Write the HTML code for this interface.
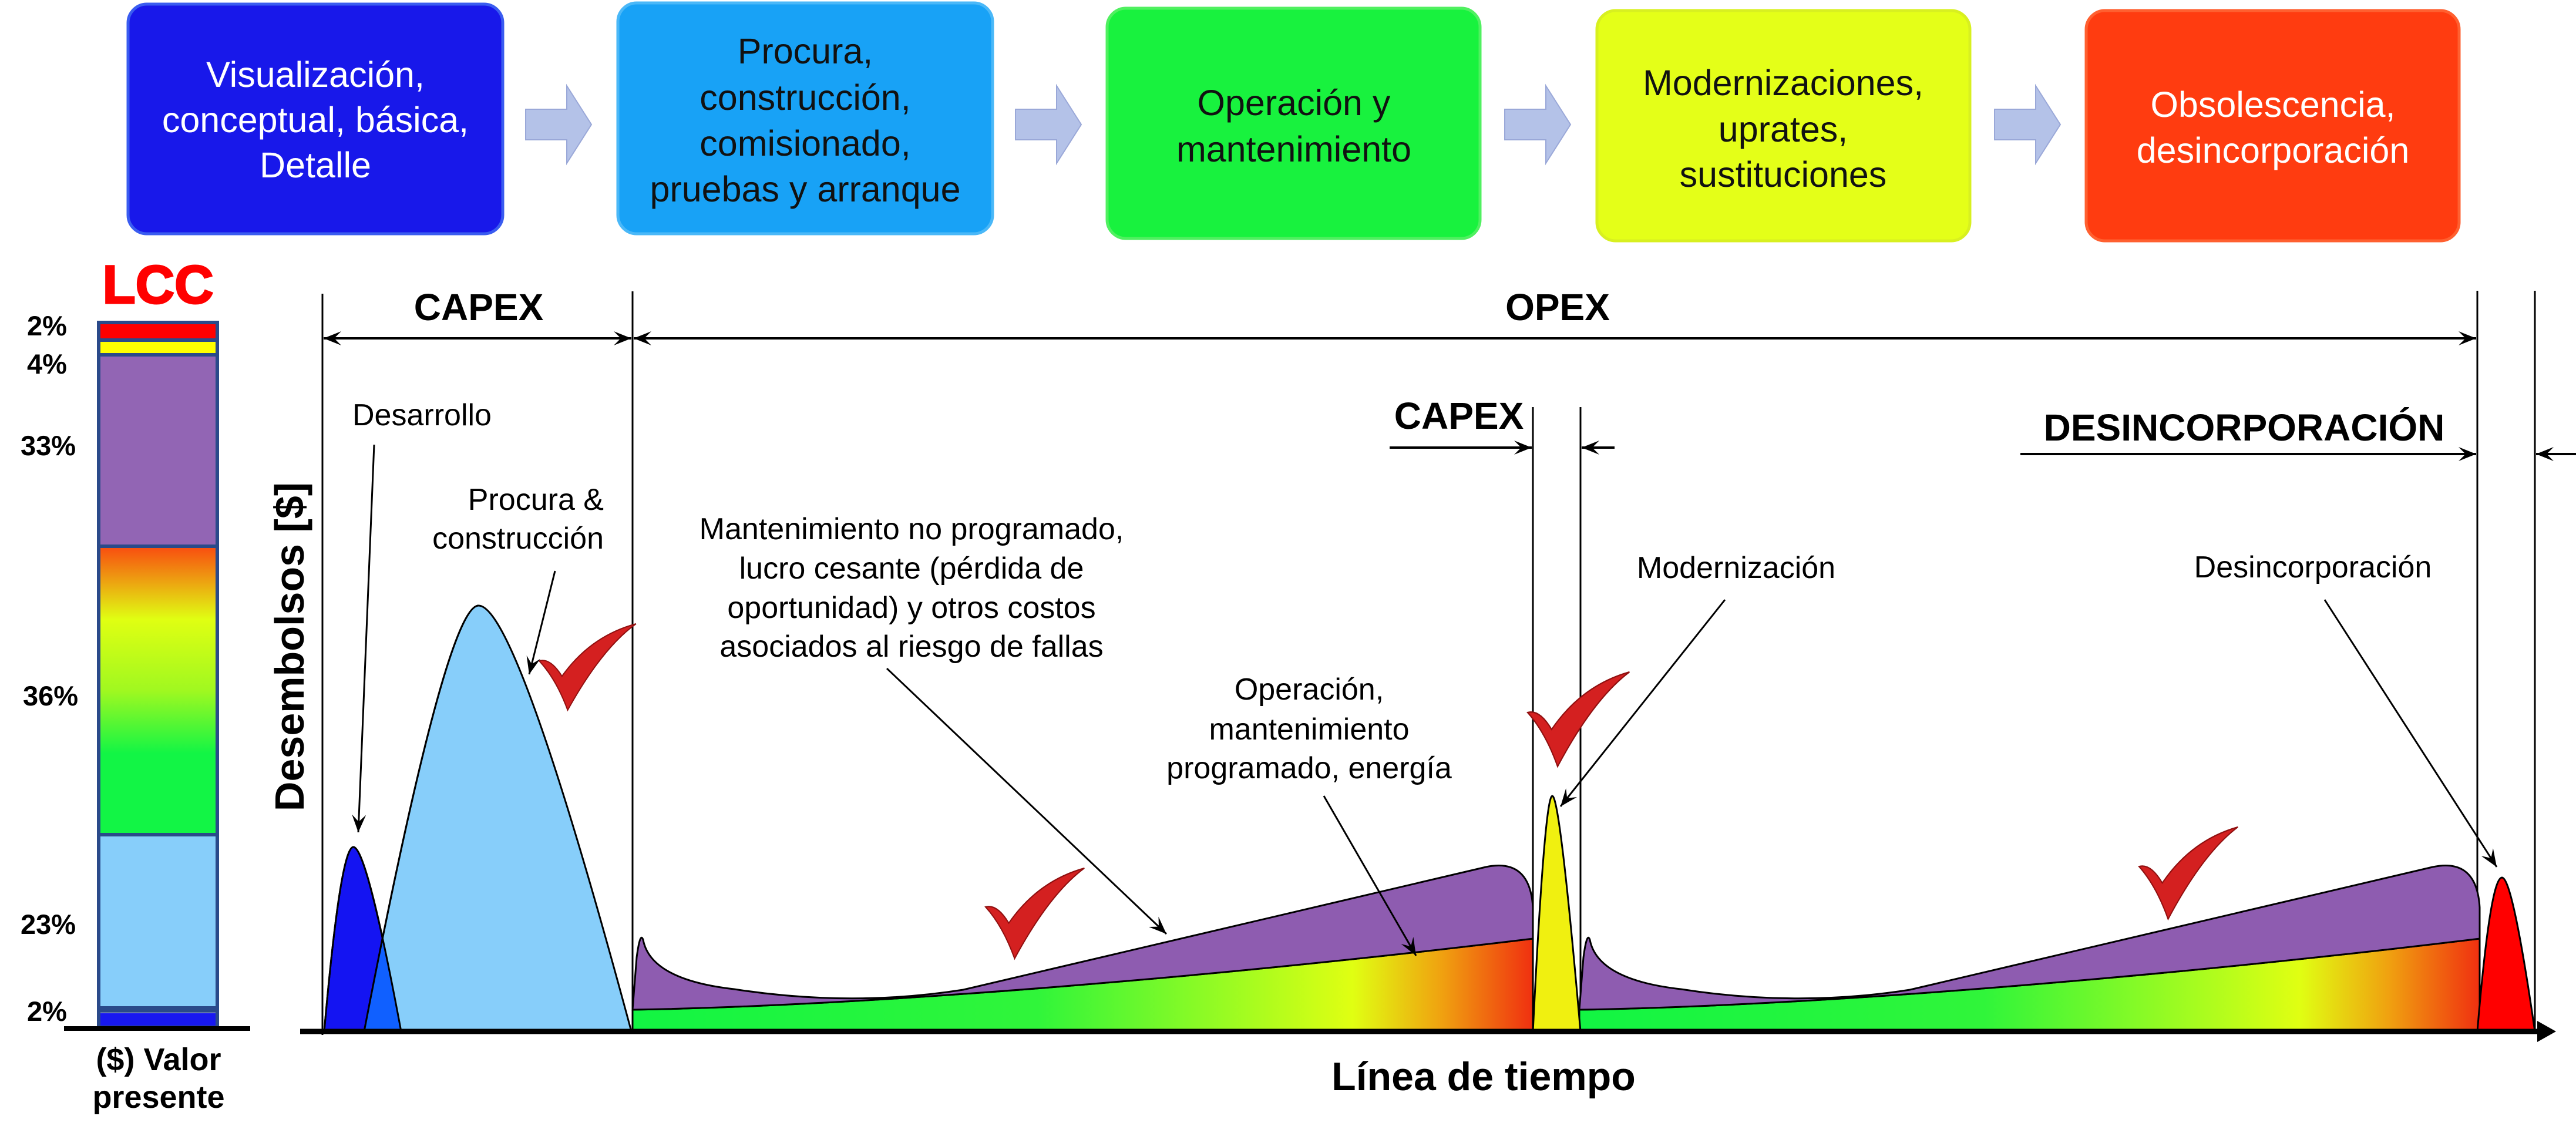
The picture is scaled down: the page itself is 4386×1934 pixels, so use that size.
<!DOCTYPE html>
<html><head><meta charset="utf-8"><style>
html,body{margin:0;padding:0;background:#fff}
svg{display:block}
text{font-family:"Liberation Sans",Arial,sans-serif}
</style></head><body>
<svg width="4386" height="1934" viewBox="0 0 4386 1934" xmlns="http://www.w3.org/2000/svg">
<defs>
<linearGradient id="opex" x1="0" x2="1" y1="0" y2="0">
<stop offset="0" stop-color="#12f543"/><stop offset="0.45" stop-color="#30f53a"/>
<stop offset="0.8" stop-color="#e0ff12"/><stop offset="0.9" stop-color="#f0a010"/><stop offset="1" stop-color="#f03010"/>
</linearGradient>
<linearGradient id="barg" x1="0" x2="0" y1="0" y2="1">
<stop offset="0" stop-color="#f85010"/><stop offset="0.25" stop-color="#e0ff12"/>
<stop offset="0.5" stop-color="#a0f820"/><stop offset="0.72" stop-color="#12f545"/><stop offset="1" stop-color="#12f545"/>
</linearGradient>
<clipPath id="dbclip"><path d="M552,1756 Q580,1440 602,1442 Q625,1445 683,1756 Z"/></clipPath>
<marker id="ah2" viewBox="0 0 10 10" refX="10" refY="5" markerWidth="50" markerHeight="30" markerUnits="userSpaceOnUse" orient="auto">
<path d="M0,1 L10,5 L0,9 L4,5 Z" fill="#000"/></marker>
<g id="chk"><path d="M0,60 Q20,55 40,85 Q90,20 170,0 Q110,40 50,140 Q30,90 0,60 Z" fill="#d42020" stroke="#901010" stroke-width="2"/></g>
<g id="arr"><path d="M0,40 L70,40 L70,0 L112,66 L70,132 L70,92 L0,92 Z" fill="#b4c2e8" stroke="#9aa8d8" stroke-width="2"/></g>
</defs>

<!-- top boxes -->
<rect x="218" y="7" width="638" height="391" rx="32" fill="#1818ea" stroke="#3a5cf0" stroke-width="5"/>
<rect x="1052" y="5" width="638" height="393" rx="32" fill="#18a2f6" stroke="#4ab8f8" stroke-width="5"/>
<rect x="1885" y="14" width="635" height="392" rx="32" fill="#18f23e" stroke="#50f060" stroke-width="5"/>
<rect x="2719" y="18" width="635" height="392" rx="32" fill="#e4ff18" stroke="#d8f020" stroke-width="5"/>
<rect x="3552" y="18" width="635" height="392" rx="32" fill="#ff3c10" stroke="#ff6030" stroke-width="5"/>
<use href="#arr" x="895" y="146"/><use href="#arr" x="1729" y="146"/><use href="#arr" x="2562" y="146"/><use href="#arr" x="3396" y="146"/>
<g font-size="61" text-anchor="middle">
<text fill="#fff"><tspan x="537" y="148">Visualización,</tspan><tspan x="537" y="225">conceptual, básica,</tspan><tspan x="537" y="302">Detalle</tspan></text>
<text fill="#111"><tspan x="1371" y="108">Procura,</tspan><tspan x="1371" y="187">construcción,</tspan><tspan x="1371" y="265">comisionado,</tspan><tspan x="1371" y="343">pruebas y arranque</tspan></text>
<text fill="#111"><tspan x="2203" y="196">Operación y</tspan><tspan x="2203" y="275">mantenimiento</tspan></text>
<text fill="#111"><tspan x="3036" y="162">Modernizaciones,</tspan><tspan x="3036" y="241">uprates,</tspan><tspan x="3036" y="318">sustituciones</tspan></text>
<text fill="#fff"><tspan x="3870" y="199">Obsolescencia,</tspan><tspan x="3870" y="277">desincorporación</tspan></text>
</g>

<!-- LCC bar -->
<text x="269" y="516" font-size="92" font-weight="bold" fill="#f00" text-anchor="middle" stroke="#f00" stroke-width="3">LCC</text>
<rect x="168" y="549" width="202" height="28" fill="#f00"/>
<rect x="168" y="582" width="202" height="20" fill="#ff0"/>
<rect x="168" y="607" width="202" height="321" fill="#9265b4"/>
<rect x="168" y="933" width="202" height="486" fill="url(#barg)"/>
<rect x="168" y="1423" width="202" height="292" fill="#87cefa"/>
<rect x="168" y="1725" width="202" height="24" fill="#1818f0"/>
<g stroke="#2a4a8a" stroke-width="6"><line x1="168" y1="579" x2="370" y2="579"/><line x1="168" y1="604" x2="370" y2="604"/><line x1="168" y1="930" x2="370" y2="930"/><line x1="168" y1="1421" x2="370" y2="1421"/></g>
<rect x="168" y="1713" width="202" height="11" fill="#2a4a8a"/>
<rect x="168" y="549" width="202" height="1200" fill="none" stroke="#2a4a8a" stroke-width="6"/>
<line x1="109" y1="1751" x2="426" y2="1751" stroke="#000" stroke-width="8"/>
<g font-size="47" font-weight="bold" text-anchor="middle" fill="#000">
<text x="80" y="571">2%</text><text x="80" y="636">4%</text><text x="82" y="775">33%</text><text x="86" y="1201">36%</text><text x="82" y="1590">23%</text><text x="80" y="1738">2%</text>
</g>
<g font-size="54" font-weight="bold" text-anchor="middle"><text x="270" y="1822">($) Valor</text><text x="270" y="1886">presente</text></g>

<!-- chart verticals -->
<g stroke="#000" stroke-width="3">
<line x1="549" y1="500" x2="549" y2="1762"/>
<line x1="1077" y1="496" x2="1077" y2="1756"/>
<line x1="4218" y1="495" x2="4218" y2="1756"/>
<line x1="4316" y1="495" x2="4316" y2="1756"/>
<line x1="2610" y1="693" x2="2610" y2="1756"/>
<line x1="2691" y1="693" x2="2691" y2="1756"/>
</g>
<g stroke="#000" stroke-width="4" fill="none">
<line x1="813" y1="576" x2="551" y2="576" marker-end="url(#ah2)"/>
<line x1="813" y1="576" x2="1075" y2="576" marker-end="url(#ah2)"/>
<line x1="2650" y1="576" x2="1079" y2="576" marker-end="url(#ah2)"/>
<line x1="2650" y1="576" x2="4216" y2="576" marker-end="url(#ah2)"/>
<line x1="2366" y1="762" x2="2608" y2="762" marker-end="url(#ah2)"/>
<line x1="2749" y1="762" x2="2693" y2="762" marker-end="url(#ah2)"/>
<line x1="3440" y1="773" x2="4216" y2="773" marker-end="url(#ah2)"/>
<line x1="4386" y1="773" x2="4318" y2="773" marker-end="url(#ah2)"/>
</g>
<g font-size="64" font-weight="bold" text-anchor="middle">
<text x="815" y="545">CAPEX</text><text x="2652" y="545">OPEX</text><text x="2484" y="730">CAPEX</text><text x="3821" y="750">DESINCORPORACIÓN</text>
</g>

<!-- curves -->
<path d="M552,1756 Q580,1440 602,1442 Q625,1445 683,1756 Z" fill="#1414f2" stroke="#000" stroke-width="3"/>
<path d="M620,1756 Q760,1030 815,1031 Q880,1032 1075,1756 Z" fill="#87cefa" stroke="#000" stroke-width="3"/>
<path d="M620,1756 Q760,1030 815,1031 Q880,1032 1075,1756 Z" fill="#1060ff" clip-path="url(#dbclip)"/>
<path d="M552,1756 Q580,1440 602,1442 Q625,1445 683,1756" fill="none" stroke="#000" stroke-width="3"/>
<path d="M620,1756 Q760,1030 815,1031" fill="none" stroke="#000" stroke-width="3"/>
<g id="sec">
<path d="M1077,1756 L1077,1719 C1500,1712 2100,1660 2610,1598 L2610,1756 Z" fill="url(#opex)" stroke="#000" stroke-width="3"/>
<path d="M1077,1719 L1084,1630 Q1090,1585 1095,1600 Q1108,1668 1250,1684 Q1450,1715 1640,1685 L2530,1476 Q2605,1460 2610,1545 L2610,1598 C2100,1660 1500,1712 1077,1719 Z" fill="#8e5cb0" stroke="#000" stroke-width="3"/>
</g>
<use href="#sec" x="1612"/>
<path d="M2610,1756 Q2630,1355 2643,1355 Q2656,1355 2691,1756 Z" fill="#f0f010" stroke="#000" stroke-width="3"/>
<path d="M4218,1756 Q4240,1494 4260,1494 Q4278,1494 4316,1756 Z" fill="#f00" stroke="#000" stroke-width="3"/>
<line x1="511" y1="1756" x2="4335" y2="1756" stroke="#000" stroke-width="9"/>
<path d="M4320,1738 L4352,1756 L4320,1774 Z" fill="#000"/>

<use href="#chk" transform="translate(918,1062) scale(0.97,1.05)"/>
<use href="#chk" transform="translate(1678,1478) scale(0.99,1.1)"/>
<use href="#chk" transform="translate(2601,1144) scale(1.02,1.15)"/>
<use href="#chk" transform="translate(3642,1408) scale(0.99,1.12)"/>

<g font-size="52" fill="#000">
<text x="600" y="724">Desarrollo</text>
<text text-anchor="end"><tspan x="1028" y="868">Procura &amp;</tspan><tspan x="1028" y="934">construcción</tspan></text>
<text text-anchor="middle"><tspan x="1552" y="918">Mantenimiento no programado,</tspan><tspan x="1552" y="985">lucro cesante (pérdida de</tspan><tspan x="1552" y="1052">oportunidad) y otros costos</tspan><tspan x="1552" y="1118">asociados al riesgo de fallas</tspan></text>
<text text-anchor="middle"><tspan x="2229" y="1191">Operación,</tspan><tspan x="2229" y="1259">mantenimiento</tspan><tspan x="2229" y="1325">programado, energía</tspan></text>
<text x="2956" y="984" text-anchor="middle">Modernización</text>
<text x="3938" y="983" text-anchor="middle">Desincorporación</text>
</g>
<g stroke="#000" stroke-width="3" fill="none">
<line x1="637" y1="757" x2="610" y2="1417" marker-end="url(#ah2)"/>
<line x1="945" y1="972" x2="901" y2="1148" marker-end="url(#ah2)"/>
<line x1="1510" y1="1138" x2="1986" y2="1590" marker-end="url(#ah2)"/>
<line x1="2254" y1="1355" x2="2411" y2="1627" marker-end="url(#ah2)"/>
<line x1="2937" y1="1021" x2="2657" y2="1373" marker-end="url(#ah2)"/>
<line x1="3958" y1="1021" x2="4251" y2="1476" marker-end="url(#ah2)"/>
</g>
<text transform="translate(517,1101) rotate(-90)" font-size="70" font-weight="bold" text-anchor="middle">Desembolsos [$]</text>
<text x="2526" y="1856" font-size="68" font-weight="bold" text-anchor="middle">Línea de tiempo</text>
</svg>
</body></html>
